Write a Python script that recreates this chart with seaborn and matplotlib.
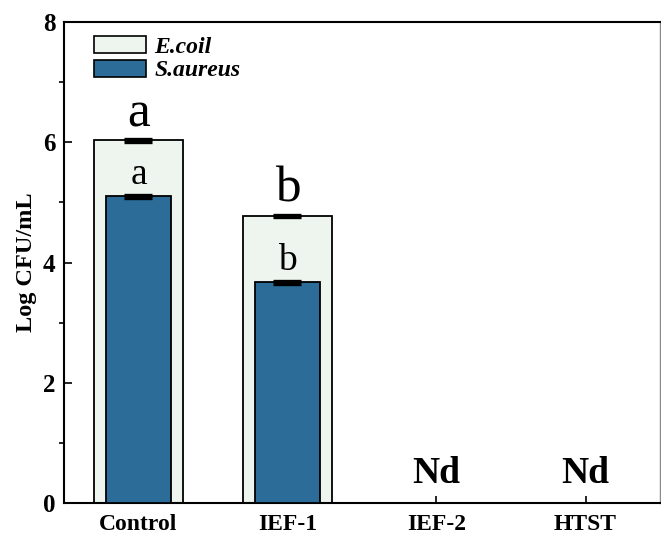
import matplotlib
matplotlib.use("Agg")
import matplotlib.pyplot as plt
import seaborn as sns
import pandas as pd
from matplotlib.patches import Patch
from matplotlib.ticker import MultipleLocator

sns.set_style("ticks")
plt.rcParams["font.family"] = ["Liberation Serif", "DejaVu Serif"]
plt.rcParams["text.color"] = "black"
plt.rcParams["axes.labelcolor"] = "black"
plt.rcParams["xtick.color"] = "black"
plt.rcParams["ytick.color"] = "black"

# Treatments and bacterial counts (Log CFU/mL)
groups = ["Control", "IEF-1", "IEF-2", "HTST"]
ecoli_mean = [6.03, 4.77, 0.0, 0.0]
ecoli_err = [0.02, 0.02, 0.0, 0.0]
saureus_mean = [5.10, 3.67, 0.0, 0.0]
saureus_err = [0.02, 0.02, 0.0, 0.0]
ecoli_letters = ["a", "b", "", ""]
saureus_letters = ["a", "b", "", ""]
not_detected = [False, False, True, True]

ecoli_color = "#eef5ee"
saureus_color = "#2c6c98"

df = pd.DataFrame({
    "group": groups,
    "ecoli": ecoli_mean,
    "saureus": saureus_mean,
})

fig = plt.figure(figsize=(6.61, 5.34), dpi=100)
ax = fig.add_axes([0.0968, 0.058, 0.9017, 0.9008])

sns.barplot(data=df, x="group", y="ecoli", order=groups, color=ecoli_color,
            width=0.6, edgecolor="black", linewidth=1.3, saturation=1,
            errorbar=None, ax=ax, zorder=2)
n_first = len(ax.patches)
sns.barplot(data=df, x="group", y="saureus", order=groups, color=saureus_color,
            width=0.43, edgecolor="black", linewidth=1.3, saturation=1,
            errorbar=None, ax=ax, zorder=3)

ecoli_bars = ax.patches[:n_first]
sa_bars = ax.patches[n_first:]

for bars, means, errs, letters, size, gap, zo in [
    (ecoli_bars, ecoli_mean, ecoli_err, ecoli_letters, 37, 0.24, 4),
    (sa_bars, saureus_mean, saureus_err, saureus_letters, 27, 0.2, 5),
]:
    for bar, m, e, lab in zip(bars, means, errs, letters):
        if m <= 0:
            continue
        cx = bar.get_x() + bar.get_width() / 2
        ax.errorbar(cx, m, yerr=e, fmt="none", ecolor="black",
                    elinewidth=1.2, capsize=10, capthick=2.4, zorder=zo)
        ax.text(cx, m + gap, lab, ha="center", va="baseline",
                fontsize=size, color="black", zorder=zo)

for i, nd in enumerate(not_detected):
    if nd:
        ax.text(i, 0.33, "Nd", ha="center", va="baseline", fontsize=27,
                fontweight="bold", color="black")

ax.set_xlim(-0.5, 3.5)
ax.set_ylim(0, 8)
ax.yaxis.set_major_locator(MultipleLocator(2))
ax.yaxis.set_minor_locator(MultipleLocator(1))
ax.tick_params(axis="both", direction="in", width=1.2, colors="black")
ax.tick_params(axis="y", which="major", length=6, labelsize=18, pad=6)
ax.tick_params(axis="y", which="minor", length=3.5, width=1.2)
ax.tick_params(axis="x", length=5, labelsize=17, pad=8)
for lab in ax.get_xticklabels() + ax.get_yticklabels():
    lab.set_fontweight("bold")

ax.set_xlabel("")
ax.set_ylabel("Log CFU/mL", fontsize=17.5, fontweight="bold", labelpad=4)

for side in ["left", "bottom", "top", "right"]:
    ax.spines[side].set_visible(True)
    ax.spines[side].set_linewidth(1.5)
    ax.spines[side].set_color("black")
ax.spines["right"].set_linewidth(1.0)
ax.spines["right"].set_color("#888888")

handles = [
    Patch(facecolor=ecoli_color, edgecolor="black", linewidth=1.2, label="E.coil"),
    Patch(facecolor=saureus_color, edgecolor="black", linewidth=1.2, label="S.aureus"),
]
leg = ax.legend(handles=handles, loc="upper left", frameon=False,
                prop={"family": "Liberation Serif", "style": "italic",
                      "weight": "bold", "size": 17},
                handlelength=2.2, handleheight=0.72, handletextpad=0.35,
                labelspacing=0.08, borderaxespad=0,
                bbox_to_anchor=(0.035, 0.99))
for t in leg.get_texts():
    t.set_color("black")

fig.savefig("out.png", dpi=100)
